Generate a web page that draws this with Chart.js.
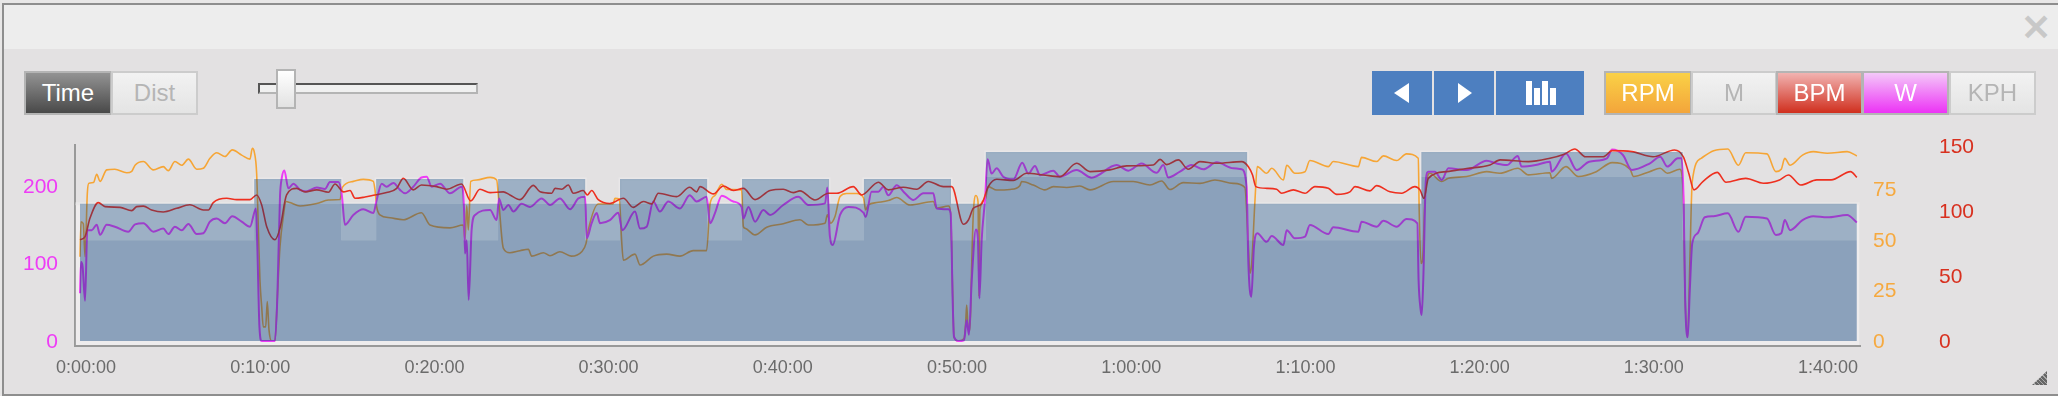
<!DOCTYPE html>
<html>
<head>
<meta charset="utf-8">
<title>Workout</title>
<script src="https://cdn.jsdelivr.net/npm/chart.js@4"></script>
<style>
html, body { margin: 0; padding: 0; width: 2058px; height: 396px; overflow: hidden; background: #e8e7e7; font-family: "Liberation Sans", Arial, sans-serif; }
#chart { position: absolute; left: 0; top: 0; }
.abs { position: absolute; box-sizing: border-box; }
#panel { left: 4px; top: 49px; width: 2054px; height: 345px; background: #e3e1e2; }
#frame { left: 2px; top: 3px; width: 2056px; height: 393px; border: 2px solid #8e8e8e; border-right: 0; }
#header { left: 4px; top: 5px; width: 2054px; height: 44px; background: #ededed; }
.btn { top: 71px; height: 44px; font-size: 24px; line-height: 40px; text-align: center; border: 2px solid #ccc; color: #b5b5b5; background: linear-gradient(#f2f2f2, #e4e4e4); }
.on { color: #fff; border-color: #b4b4b4; }
.blue { top: 71px; height: 44px; background: #4d7fc0; }
.shape { background: #fff; }
</style>
</head>
<body>
<div class="abs" id="panel"></div>
<canvas id="chart" width="2058" height="396"></canvas>
<div class="abs" id="frame"></div>
<div class="abs" id="header"></div>
<div class="abs" style="left:2021px;top:12px;font:bold 36px 'Liberation Sans';color:#c8c8c8;line-height:32px">&#10005;</div>

<div class="abs btn on" style="left:24px;width:88px;background:linear-gradient(#939393,#494949)">Time</div>
<div class="abs btn" style="left:111px;width:87px">Dist</div>

<div class="abs" style="left:258px;top:83px;width:220px;height:11px;background:#f0f0f0;border:2px solid #b4b4b4;border-top-color:#555;border-left-color:#555"></div>
<div class="abs" style="left:276px;top:69px;width:20px;height:40px;background:linear-gradient(#fff,#e2e2e2);border:2px solid #b4b4b4"></div>

<div class="abs blue" style="left:1372px;width:60px"></div>
<div class="abs blue" style="left:1434px;width:60px"></div>
<div class="abs blue" style="left:1496px;width:88px"></div>
<div class="abs shape" style="left:1394px;top:83px;width:15px;height:20px;clip-path:polygon(100% 0,0 50%,100% 100%)"></div>
<div class="abs shape" style="left:1458px;top:83px;width:14px;height:20px;clip-path:polygon(0 0,100% 50%,0 100%)"></div>
<div class="abs shape" style="left:1526px;top:81px;width:6px;height:24px"></div>
<div class="abs shape" style="left:1534px;top:88px;width:6px;height:17px"></div>
<div class="abs shape" style="left:1542px;top:81px;width:6px;height:24px"></div>
<div class="abs shape" style="left:1550px;top:88px;width:6px;height:17px"></div>

<div class="abs btn on" style="left:1604px;width:88px;background:linear-gradient(#fad146,#f3a53b)">RPM</div>
<div class="abs btn" style="left:1691px;width:86px">M</div>
<div class="abs btn on" style="left:1776px;width:87px;background:linear-gradient(#f1b3b1,#d02f1e)">BPM</div>
<div class="abs btn on" style="left:1862px;width:87px;background:linear-gradient(#f4c8f9,#ec33f5)">W</div>
<div class="abs btn" style="left:1949px;width:87px">KPH</div>

<div class="abs" style="left:2032px;top:371px;width:15px;height:14px;clip-path:polygon(100% 0,100% 100%,0 100%);background:repeating-linear-gradient(45deg,#666 0 2px,#aaa 2px 3px)"></div>

<script>
// x axis, minutes
var timeTicks = [0, 10, 20, 30, 40, 50, 60, 70, 80, 90, 100];
var timeLabels = ['0:00:00', '0:10:00', '0:20:00', '0:30:00', '0:40:00', '0:50:00', '1:00:00', '1:10:00', '1:20:00', '1:30:00', '1:40:00'];
var wTicks = [0, 100, 200];
var rpmTicks = [0, 25, 50, 75];
var bpmTicks = [0, 50, 100, 150];

// workout blocks
var blockTime = [0, 10, 15, 17, 22, 24, 29, 31, 36, 38, 43, 45, 50, 52, 67, 77, 92, 102];
var blockLow = [130, 177, 130, 177, 130, 177, 130, 177, 130, 177, 130, 177, 130, 212, 130, 212, 130, 130];
var blockHigh = [177, 209, 177, 209, 177, 209, 177, 209, 177, 209, 177, 209, 177, 244, 177, 244, 177, 177];
var glowTime = [-0.25, 10, 15, 17, 22, 24, 29, 31, 36, 38, 43, 45, 50, 52, 67, 77, 92, 102.15];

var rpmTime = [0, 0.06, 0.19, 0.29, 0.42, 0.5, 0.77, 0.96, 1.15, 1.53, 2, 2.68, 2.97, 3.16, 3.64, 4.21, 4.78, 5.07, 5.45, 5.84, 6.22, 6.7, 7.08, 7.46, 7.85, 8.32, 8.74, 9.28, 9.76, 9.89, 10, 10.14, 10.24, 10.33, 10.43, 10.52, 10.66, 10.75, 10.85, 11, 11.19, 11.33, 11.48, 11.67, 11.83, 12.05, 12.63, 13.59, 14.26, 14.93, 15.06, 15.69, 16.26, 16.84, 16.93, 17.03, 17.22, 17.8, 18.56, 19.6, 20.09, 21.24, 22, 22.1, 22.2, 22.29, 22.43, 22.77, 23.54, 23.92, 24.05, 24.3, 24.68, 25.26, 25.74, 25.93, 26.6, 26.98, 27.55, 28.2, 28.8, 29.05, 29.18, 29.75, 30.6, 30.71, 30.96, 31.09, 31.19, 31.86, 32.15, 32.91, 33.68, 34.44, 35.2, 35.97, 36.17, 36.45, 36.84, 37.12, 37.5, 37.98, 38.08, 38.18, 38.75, 39.42, 40.37, 41.33, 41.81, 42.77, 42.9, 43.09, 43.34, 43.63, 44, 44.58, 44.97, 45.1, 45.25, 45.73, 46.4, 46.88, 47.65, 48.98, 49.18, 49.85, 49.98, 50.1, 50.17, 50.42, 50.75, 50.84, 50.9, 50.99, 51.09, 51.19, 51.28, 51.43, 51.55, 51.61, 51.66, 51.95, 52.14, 52.62, 53.39, 53.96, 54.05, 54.72, 55.39, 55.87, 56.64, 57.4, 57.98, 59.32, 60.46, 61.42, 62.09, 62.57, 63.33, 64.29, 65.15, 66.2, 66.87, 67.07, 67.16, 67.26, 67.45, 67.58, 68.12, 68.41, 69.08, 69.27, 69.74, 70.32, 70.6, 71.66, 71.94, 73.38, 73.57, 74.43, 74.82, 75.58, 76.15, 76.82, 76.88, 76.98, 77.07, 77.21, 77.49, 78.17, 78.55, 79.6, 80.75, 81.51, 82.54, 83.15, 84.38, 84.48, 85.3, 86, 87.04, 87.95, 88.98, 89.18, 90.1, 90.71, 91.12, 91.84, 92.04, 92.14, 92.29, 92.41, 92.55, 93.06, 93.78, 94.59, 95.2, 95.62, 96.84, 97.35, 97.66, 97.86, 98.17, 98.88, 99.5, 100.3, 101.44, 102];
var rpmValues = [41.7, 59, 58, 41.7, 73, 78, 78.4, 82.5, 79, 84.7, 85, 83.3, 84, 87, 88.8, 84.7, 86.3, 84.3, 88.8, 87, 90, 85, 85.5, 90.4, 93.2, 91.3, 94.6, 92, 90, 95.4, 93.7, 83, 55, 30, 17, 7, 7, 19.5, 5.4, 0, 0, 22, 46.7, 61.5, 69, 68.5, 66.8, 68, 69.8, 70, 76, 79, 80, 79, 75, 66.5, 62.4, 61, 60, 63.5, 57.4, 56, 57.4, 50, 67, 55, 79, 79.7, 81, 79.7, 68, 46, 43.7, 44.7, 45.4, 42, 43.7, 42.2, 44.2, 42, 44.2, 48.3, 55, 67.8, 67.8, 70.6, 70.3, 50, 40, 43, 37.6, 42, 43, 42, 44.7, 44.7, 68, 72, 77.6, 75, 75, 74.8, 56.6, 55.8, 52.5, 56.3, 58, 60, 57.4, 58.3, 62.4, 58.3, 61.6, 71.5, 73, 73, 71, 64.9, 67.3, 68.5, 69.5, 71, 67.3, 69, 65.7, 66.8, 63, 22, 2, 0, 1.3, 8.7, 17.8, 5.4, 5.4, 38.4, 63, 72, 69, 22, 65, 69.8, 76.4, 74.7, 75, 77, 78.9, 77.2, 74.8, 76.4, 76, 76.7, 74.8, 78.9, 78.9, 77.2, 79.2, 75, 78.4, 78, 79.7, 78, 76, 46.7, 33.5, 38.4, 69.8, 86.3, 83, 85.5, 79.7, 87, 83, 83.8, 89.3, 86.3, 88.8, 86.3, 90.9, 88.8, 91.6, 89.3, 92.6, 90.4, 63, 38.4, 40, 71.5, 83, 78.9, 80.5, 81.4, 83.8, 83, 85.5, 82.2, 83.3, 80.5, 86.3, 81.4, 83.8, 88.3, 85, 81.4, 83.8, 85.5, 83, 85, 71.5, 22, 2, 38.4, 78.9, 90.4, 94.2, 95, 87, 93.2, 92.6, 83.8, 85, 90.4, 87, 92, 93.7, 92.9, 93.7, 91.6];

var bpmTime = [0, 0.29, 0.57, 1.05, 1.44, 2.3, 2.97, 3.25, 3.64, 4.11, 4.78, 5.55, 6.3, 7.08, 7.37, 7.65, 8.42, 9, 9.76, 10.14, 10.43, 10.72, 11.19, 11.48, 11.86, 12.44, 12.92, 13.59, 14.26, 14.64, 15.13, 15.5, 15.79, 16.36, 16.93, 17.6, 18.18, 18.56, 19.13, 19.6, 20.47, 21.05, 21.9, 22.43, 22.96, 23.54, 24.3, 24.68, 25.26, 26.02, 26.41, 27.08, 27.27, 27.65, 28.03, 28.32, 28.89, 29.12, 29.37, 29.75, 30.42, 31.19, 31.76, 32.34, 32.82, 33.2, 34.25, 35, 35.4, 35.59, 36.36, 36.93, 37.5, 38.08, 38.75, 39.61, 40.37, 40.95, 41.33, 42.19, 42.96, 43.44, 44.39, 44.87, 45.83, 46.4, 47.26, 48.03, 48.7, 49.56, 50.04, 50.71, 51, 51.28, 51.76, 52.14, 52.62, 53.58, 54.34, 55.3, 56.25, 57.21, 57.98, 59.12, 60.08, 61.61, 62, 62.38, 63.05, 63.62, 64.29, 65.25, 66.68, 67.07, 67.31, 67.5, 68.12, 68.69, 68.98, 69.65, 70.32, 70.89, 71.66, 72.14, 72.9, 73.19, 74.05, 74.43, 75.2, 75.87, 76.63, 76.92, 77.15, 77.4, 78.45, 79.6, 80.94, 81.52, 83.15, 84.38, 85.2, 85.81, 86.42, 87.44, 87.95, 89.08, 90.3, 91.53, 92.04, 92.35, 92.65, 93.16, 93.98, 94.49, 95.62, 96.64, 97.56, 98.07, 98.78, 99.7, 100.52, 101.64, 102];
var bpmValues = [78, 80.5, 94.6, 106.7, 103.6, 103, 100.5, 103.6, 104, 101, 99.5, 102.3, 105, 101, 101, 106.7, 110, 109, 109, 112.6, 104.9, 88, 78, 87, 112.6, 117.7, 115, 116.5, 114.7, 121, 115, 116, 110, 111, 112.6, 114.4, 117.7, 125.4, 116.5, 120.3, 119, 117, 121, 108, 117, 114.4, 115, 112.6, 109, 120, 115, 113.9, 117.7, 117, 120.3, 113.9, 116, 112.6, 116, 109, 106, 110, 103, 107.5, 105.7, 113.9, 111.3, 118.5, 115, 119, 113.4, 119.5, 116, 117.7, 109, 116, 117, 114.4, 115.7, 108.7, 113.9, 113.9, 119, 112.6, 122.4, 116.5, 118.5, 117, 123, 119, 119, 90, 93.3, 102.3, 105.7, 119, 124.7, 123.7, 129.3, 128, 126.7, 137, 130.6, 131.9, 135, 135.7, 140, 136, 139.6, 132.4, 138.3, 137, 138.3, 134.4, 128, 119, 117.7, 117, 113.9, 116.5, 113.9, 119, 117.7, 113, 115, 119, 115.7, 119.8, 115, 113.9, 119, 116.5, 110, 125.4, 130.6, 133, 135.7, 139.6, 138.3, 140.9, 144, 148, 142, 142, 146.8, 146, 142, 147.3, 142, 129.3, 116.5, 122.9, 130, 122.4, 125.4, 121.6, 124.2, 128, 120.3, 124.2, 124.2, 130.6, 126.2];

var wTime = [0, 0.06, 0.15, 0.29, 0.42, 0.67, 0.96, 1.15, 1.53, 2, 2.77, 3.16, 3.64, 4.21, 4.78, 5.07, 5.45, 5.84, 6.22, 6.7, 7.08, 7.46, 7.85, 8.32, 8.74, 9.28, 9.76, 10.1, 10.18, 10.3, 10.43, 11.19, 11.33, 11.48, 11.58, 11.73, 11.96, 12.25, 12.63, 13, 13.59, 14.06, 14.35, 14.83, 15.02, 15.21, 15.69, 16.26, 16.84, 17.03, 17.32, 17.6, 17.99, 18.37, 18.66, 19.13, 19.6, 19.9, 20.19, 20.67, 21.24, 21.91, 22.04, 22.1, 22.2, 22.31, 22.48, 22.68, 23.54, 23.92, 24.05, 24.3, 24.59, 24.88, 25.35, 25.83, 26.5, 26.98, 27.55, 28.13, 28.61, 29, 29.09, 29.37, 29.66, 29.85, 30.42, 30.9, 31.13, 31.86, 32.15, 32.53, 32.91, 33.29, 33.77, 34.44, 35, 35.4, 35.97, 36.17, 36.45, 36.84, 37.5, 37.98, 38.08, 38.37, 38.75, 39.23, 39.61, 40.37, 41.23, 41.81, 42.77, 42.9, 43.05, 43.21, 43.63, 44.11, 44.97, 45.1, 45.44, 45.83, 46.12, 46.4, 46.88, 47.36, 47.84, 48.41, 48.98, 49.18, 49.85, 49.98, 50.1, 50.17, 50.42, 50.75, 50.9, 51.03, 51.19, 51.43, 51.55, 51.63, 51.76, 51.95, 52.1, 52.33, 52.62, 53, 53.58, 54.09, 54.44, 54.82, 55.11, 55.87, 56.25, 57.21, 58.07, 59.51, 60.18, 60.94, 61.8, 62.19, 62.47, 63.14, 63.81, 64.48, 65.25, 66.2, 66.68, 66.97, 67.07, 67.24, 67.39, 67.58, 68.12, 68.41, 69.08, 69.27, 69.74, 70.32, 70.6, 71.66, 71.94, 73.38, 73.57, 74.43, 74.82, 75.58, 76.15, 76.77, 76.84, 76.96, 77.02, 77.11, 77.26, 77.4, 77.78, 78.17, 78.55, 79.6, 80.75, 81.32, 81.9, 82.54, 82.75, 83.56, 84.38, 84.48, 85.3, 85.92, 86.63, 87.65, 87.95, 88.57, 89.08, 90.1, 90.71, 91.12, 91.73, 91.94, 92.06, 92.14, 92.29, 92.41, 92.55, 92.86, 93.27, 93.78, 94.59, 95.2, 95.62, 96.84, 97.35, 97.66, 97.86, 98.17, 98.88, 99.5, 100.3, 101.44, 102];
var wValues = [61.5, 102, 96, 52, 143, 143, 150, 137, 150, 147.5, 141, 150.5, 152, 141, 145, 138, 147.5, 143, 151, 138, 139, 154, 158, 152, 161, 154, 147.5, 171, 122, 18.5, 0, 0, 57, 186, 210, 220, 197, 203, 195, 193, 198, 196, 205, 205, 190.5, 150, 162.6, 170, 165, 182, 203, 199, 204, 195, 190.5, 199, 211, 212, 199, 203, 190.5, 199, 173, 113, 130, 53, 143, 162.6, 169, 156, 184, 169, 175.5, 167, 177, 173, 184, 175.5, 184, 170, 184, 186, 132.5, 152, 165, 152, 156, 165.6, 143, 167, 145, 147.5, 180, 167, 180, 171, 188, 180, 186, 152, 165, 187.5, 180, 173, 158, 173, 154, 169, 162.6, 175.5, 186, 175.5, 177.6, 198, 134.6, 124, 162.6, 173, 165.6, 160, 192.7, 192.7, 199, 188, 201, 190.5, 182, 190.5, 190.5, 171, 170, 165, 48.6, 5.6, 0, 1, 27, 8, 78.7, 144, 130, 55, 130, 182, 234.4, 216, 222.8, 212, 208.6, 230, 216, 225.8, 214, 219.8, 212, 220.6, 210.8, 227, 219.8, 229, 217, 227, 211, 218.5, 227, 221.5, 230.5, 222.8, 221.5, 199, 100, 57, 121.7, 139, 128, 135.5, 123.9, 143, 132.5, 134.6, 149.7, 138, 146.7, 141, 154, 147.5, 155, 147.5, 157.4, 151.8, 78.7, 40, 33.5, 78.7, 207.7, 218.5, 218.5, 207.7, 222.8, 220.6, 232.7, 229, 227, 238.7, 225, 227, 231.4, 218.5, 242, 220.6, 231.4, 235.7, 247, 240, 220.6, 229, 237.8, 225, 235.7, 235.7, 177.6, 57, 4.7, 65.8, 126, 139, 159.6, 161, 164.7, 141, 160.4, 158, 136.8, 139, 156, 143, 156, 161, 159.6, 162.6, 153];

function zip(xs, ys) {
  return xs.map(function (x, i) { return { x: x, y: ys[i] }; });
}

function lineSet(label, yAxisID, color, width, xs, ys, order) {
  return {
    label: label, yAxisID: yAxisID, data: zip(xs, ys), order: order,
    borderColor: color, borderWidth: width, pointRadius: 0, fill: false,
    cubicInterpolationMode: 'monotone'
  };
}

function fixedTicks(list) {
  return function (scale) {
    scale.ticks = list.map(function (v) { return { value: v }; });
  };
}

function valueAxis(position, min, max, color, list, padding, width) {
  return {
    position: position, min: min, max: max,
    grid: { display: false, drawTicks: false },
    border: { display: position === 'left', color: '#999', width: 2 },
    afterBuildTicks: fixedTicks(list),
    afterFit: function (scale) { scale.width = width; },
    ticks: { color: color, padding: padding, labelOffset: 1, font: { family: 'Liberation Sans', size: 21 } }
  };
}

// the blocks are drawn last, the lines show through them
new Chart(document.getElementById('chart'), {
  type: 'line',
  data: {
    datasets: [
      { label: 'glow', yAxisID: 'yW', data: zip(glowTime, blockHigh), stepped: 'before', order: 9, pointRadius: 0,
        borderColor: '#e9e7e8', borderWidth: 3, backgroundColor: '#eeeced', fill: { value: -5.2 } },
      lineSet('RPM', 'yRpm', '#f6a535', 1.6, rpmTime, rpmValues, 5),
      lineSet('W', 'yW', '#ee3cf6', 2, wTime, wValues, 4),
      lineSet('BPM', 'yBpm', '#ee2f1f', 1.6, bpmTime, bpmValues, 3),
      { label: 'low', yAxisID: 'yW', data: zip(blockTime, blockLow), stepped: 'before', order: 2, pointRadius: 0,
        borderWidth: 0, backgroundColor: 'rgba(2,57,119,0.42)', fill: 'origin' },
      { label: 'high', yAxisID: 'yW', data: zip(blockTime, blockHigh), stepped: 'before', order: 1, pointRadius: 0,
        borderWidth: 0, backgroundColor: 'rgba(6,66,123,0.35)', fill: { target: 4 } }
    ]
  },
  options: {
    responsive: false,
    animation: false,
    layout: { padding: { top: 145 } },
    plugins: { legend: { display: false }, tooltip: { enabled: false } },
    scales: {
      x: {
        type: 'linear', min: -0.287, max: 102.18,
        grid: { display: false, drawTicks: false },
        border: { display: true, color: '#999', width: 2 },
        afterBuildTicks: fixedTicks(timeTicks),
        afterFit: function (scale) { scale.height = 50; },
        ticks: {
          color: '#6b6b6b', padding: 11, labelOffset: 6, maxRotation: 0, autoSkip: false,
          font: { family: 'Liberation Sans', size: 18 },
          callback: function (v) { return timeLabels[timeTicks.indexOf(v)]; }
        }
      },
      yW: valueAxis('left', -6.45, 252.9, '#ee3cf6', wTicks, 17, 75),
      yRpm: valueAxis('right', -2.48, 97, '#f6a93f', rpmTicks, 13, 79),
      yBpm: valueAxis('right', -3.85, 151.1, '#d8301f', bpmTicks, 0, 119)
    }
  }
});
</script>
</body>
</html>
